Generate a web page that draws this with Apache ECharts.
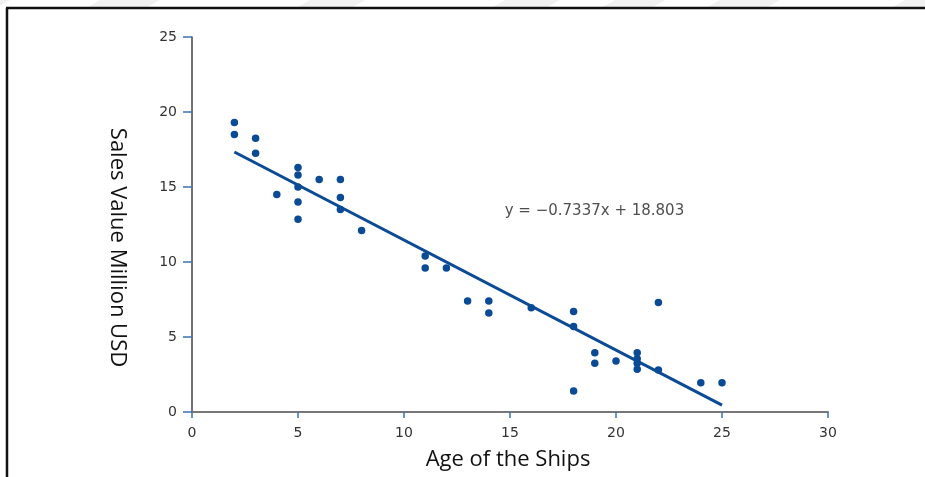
<!DOCTYPE html>
<html>
<head>
<meta charset="utf-8">
<script src="https://cdn.jsdelivr.net/npm/echarts@6/dist/echarts.min.js"></script>
<style>
  html, body { margin: 0; padding: 0; background: #fff; }
  #chart { width: 925px; height: 477px; }
</style>
</head>
<body>
<div id="chart"></div>
<script>
// Ship age (years) against sales value (million USD)
const shipAges = [2, 2, 3, 3, 4, 5, 5, 5, 5, 5, 6, 7, 7, 7, 8,
                  11, 11, 12, 13, 14, 14, 16, 18, 18, 18,
                  19, 19, 20, 21, 21, 21, 21, 22, 22, 24, 25];
const salesValues = [19.3, 18.5, 18.25, 17.25, 14.5, 16.3, 15.8, 15.0, 14.0, 12.85, 15.5, 15.5, 14.3, 13.5, 12.1,
                     10.4, 9.6, 9.6, 7.4, 7.4, 6.6, 6.95, 6.7, 5.7, 1.4,
                     3.95, 3.25, 3.4, 3.95, 3.55, 3.25, 2.85, 7.3, 2.8, 1.95, 1.95];

// Fitted trend line y = slope * x + intercept over the observed age range
const slope = -0.7337;
const intercept = 18.803;
const fitRange = [2, 25];
const fitLabel = 'y = \u22120.7337x + 18.803';
const fitLabelAt = [14.75, 13.4];

const xTicks = [0, 5, 10, 15, 20, 25, 30];
const yTicks = [0, 5, 10, 15, 20, 25];

const blue = '#0b4a95';
const points = shipAges.map((a, i) => [a, salesValues[i]]);
const fitLine = fitRange.map(x => [x, slope * x + intercept]);

const chart = echarts.init(document.getElementById('chart'), null, { renderer: 'canvas' });

// Faint diagonal bands along the top edge and the black frame
const bands = [];
[[-20, 10], [100, 160], [310, 365], [505, 560], [615, 665], [720, 780], [905, 960]].forEach(([a, b]) => {
  bands.push({
    type: 'polygon',
    shape: { points: [[a, 0], [b, 0], [b - 12, 7], [a - 12, 7]] },
    style: { fill: '#f1f1f1' },
    silent: true
  });
});

chart.setOption({
  animation: false,
  backgroundColor: '#ffffff',
  graphic: bands.concat([
    { type: 'line', shape: { x1: 6, y1: 8, x2: 925, y2: 8 }, style: { stroke: '#111', lineWidth: 2.5 }, silent: true },
    { type: 'line', shape: { x1: 7, y1: 8, x2: 7, y2: 477 }, style: { stroke: '#111', lineWidth: 2.5 }, silent: true }
  ]),
  grid: { left: 192, right: 97, top: 37, bottom: 65, containLabel: false },
  xAxis: {
    type: 'value',
    min: xTicks[0],
    max: xTicks[xTicks.length - 1],
    interval: 5,
    name: 'Age of the Ships',
    nameLocation: 'middle',
    nameGap: 37,
    nameTextStyle: { fontFamily: 'Open Sans', fontSize: 22, color: '#111', padding: [0, 4, 0, 0] },
    axisLine: { show: true, onZero: false, lineStyle: { color: '#777', width: 2 } },
    axisTick: { show: true, length: 6, lineStyle: { color: '#3d72b8', width: 1.5 } },
    axisLabel: { margin: 14, fontFamily: 'DejaVu Sans', fontSize: 14, color: '#333' },
    splitLine: { show: false }
  },
  yAxis: {
    type: 'value',
    min: yTicks[0],
    max: yTicks[yTicks.length - 1],
    interval: 5,
    name: 'Sales Value Million USD',
    nameLocation: 'middle',
    nameRotate: -90,
    nameGap: 64,
    nameTextStyle: { fontFamily: 'Open Sans', fontSize: 22, color: '#111', padding: [0, 0, 0, 46] },
    axisLine: { show: true, onZero: false, lineStyle: { color: '#444', width: 1.5 } },
    axisTick: { show: true, length: 9, lineStyle: { color: '#3d72b8', width: 1.5 } },
    axisLabel: { margin: 15, fontFamily: 'DejaVu Sans', fontSize: 14, color: '#333' },
    splitLine: { show: false }
  },
  series: [
    {
      type: 'scatter',
      data: points,
      symbol: 'circle',
      symbolSize: 7.5,
      itemStyle: { color: blue, opacity: 1 },
      z: 3
    },
    {
      type: 'line',
      data: fitLine,
      showSymbol: false,
      symbol: 'none',
      lineStyle: { color: blue, width: 3 },
      z: 2
    },
    {
      type: 'scatter',
      data: [fitLabelAt],
      symbolSize: 0,
      silent: true,
      label: {
        show: true,
        position: 'right',
        distance: 0,
        formatter: fitLabel,
        fontFamily: 'DejaVu Sans',
        fontSize: 15,
        color: '#222'
      }
    }
  ]
});
</script>
</body>
</html>
